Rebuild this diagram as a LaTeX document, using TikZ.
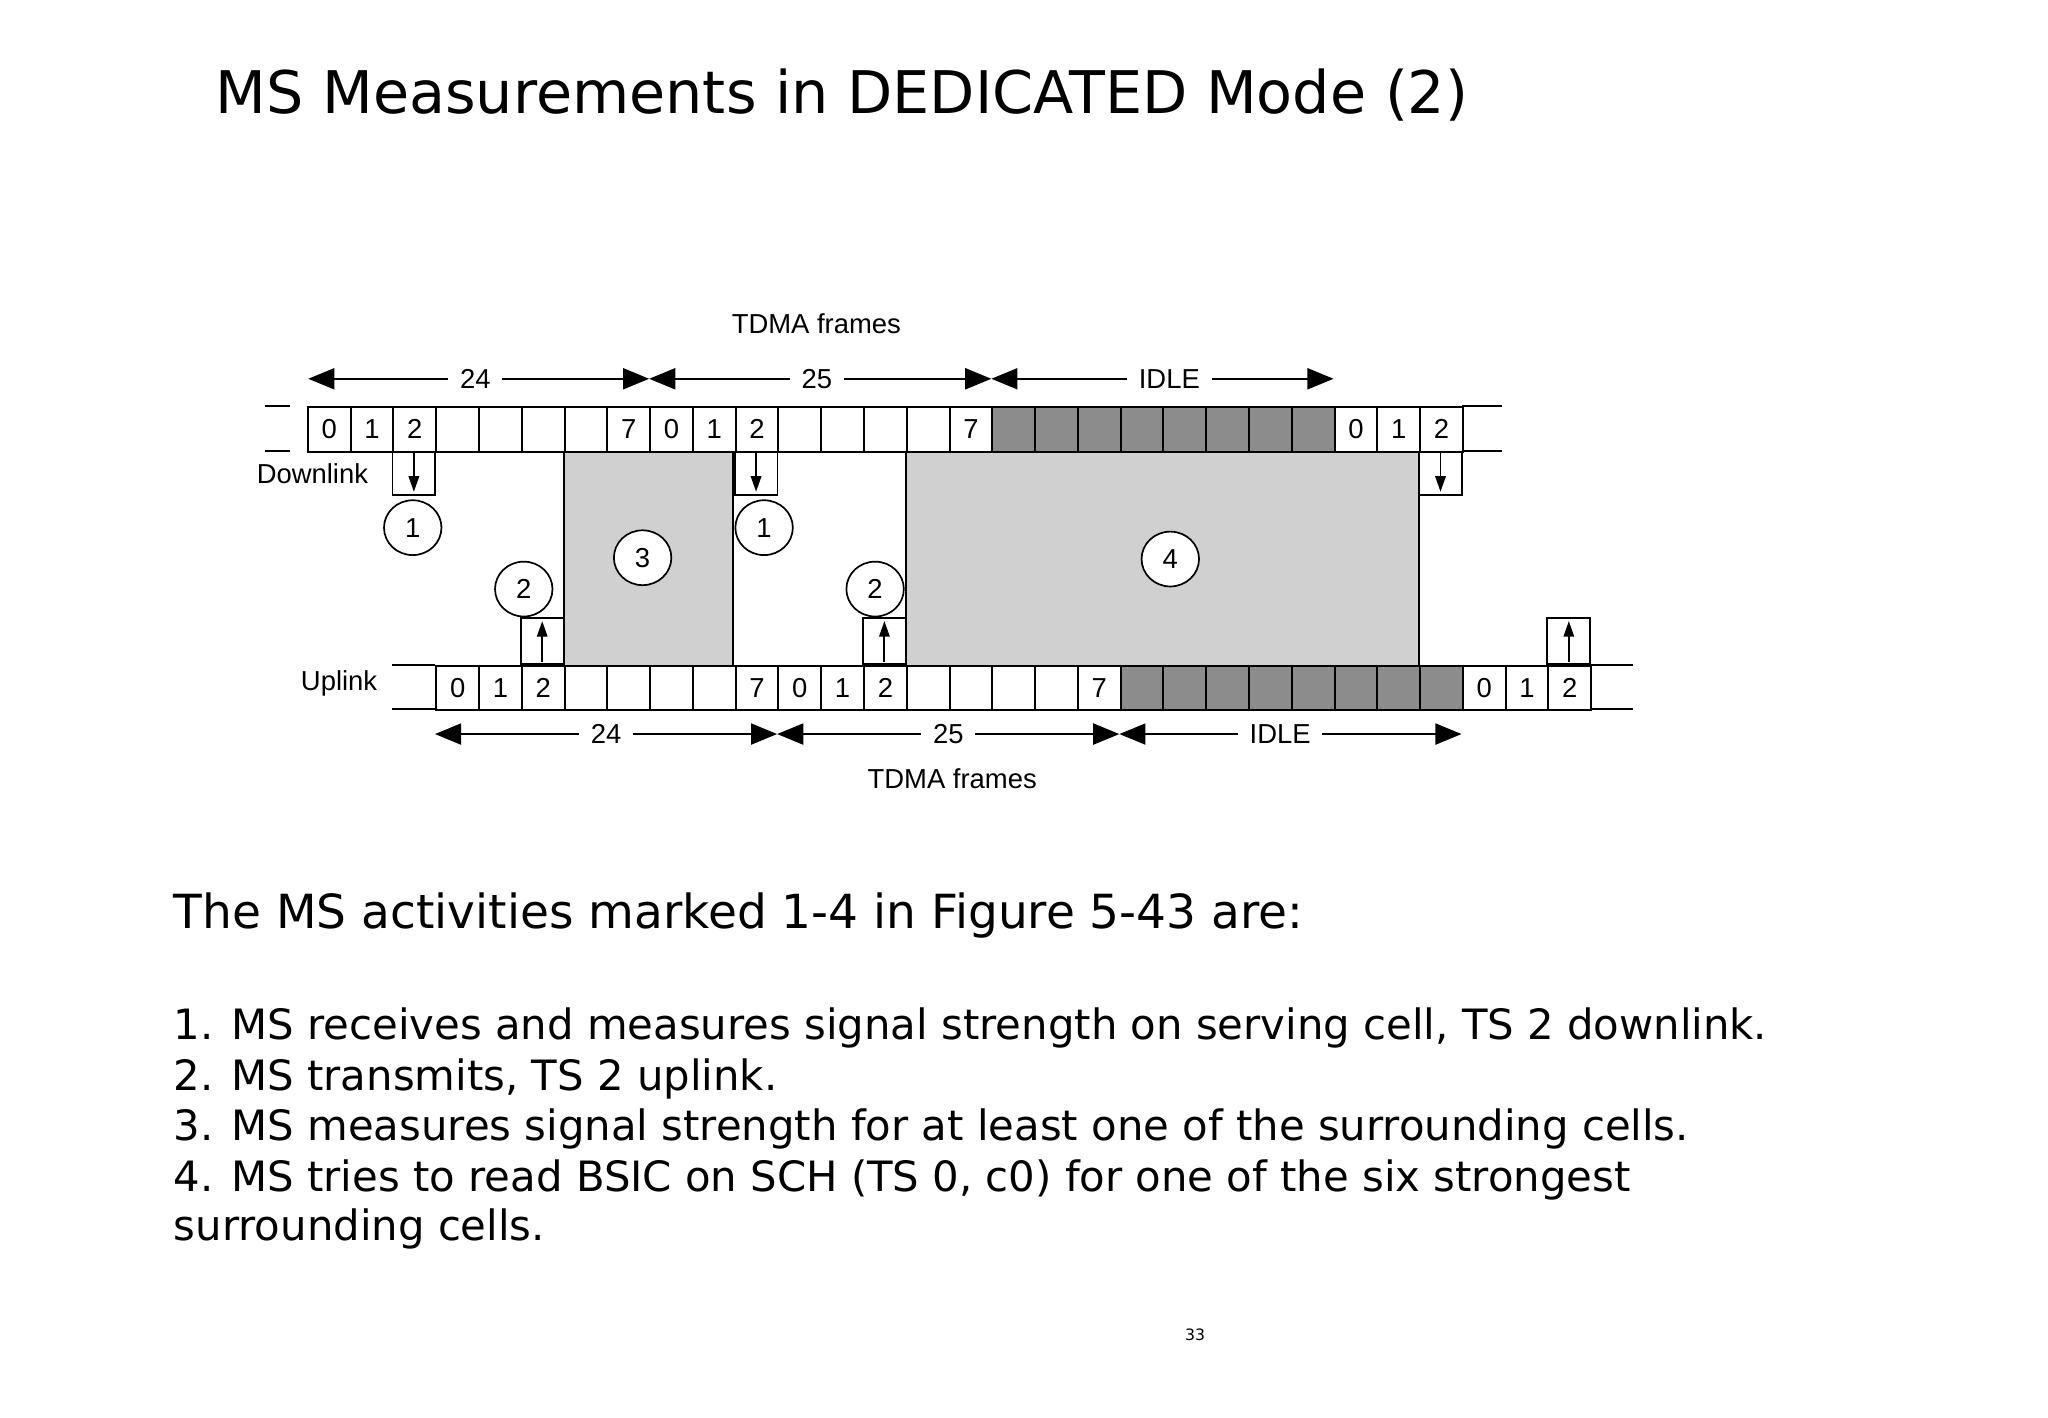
\documentclass[tikz,border=0pt]{standalone}
\usepackage{fontspec}
\setmainfont{DejaVu Sans}
\newfontfamily\diafont{Liberation Sans}
\usetikzlibrary{arrows.meta,shapes.geometric}
\definecolor{lightg}{HTML}{D0D0D0}
\definecolor{darkg}{HTML}{8C8C8C}
\tikzset{
 cellbox/.style={draw,line width=1.5pt,minimum width=32.75pt,minimum height=34pt,inner sep=0pt,anchor=north west,font=\diafont\fontsize{21}{21}\selectfont},
 darkcell/.style={cellbox,fill=darkg},
 abox/.style={draw,line width=1.5pt,minimum width=32.75pt,minimum height=33pt,inner sep=0pt,fill=white},
 circ/.style={draw,line width=1.3pt,ellipse,minimum width=44pt,minimum height=42pt,inner sep=0pt,fill=white,font=\diafont\fontsize{21}{21}\selectfont},
 dimarrow/.style={line width=1.8pt,{Triangle[length=20pt,width=16pt]}-{Triangle[length=20pt,width=16pt]}},
 dimlbl/.style={fill=white,inner sep=9pt,font=\diafont\fontsize{21}{21}\selectfont},
 lbl/.style={font=\diafont\fontsize{21}{21}\selectfont,inner sep=0pt},
 bodytxt/.style={anchor=base west,inner sep=0pt,font=\fontsize{32}{32}\selectfont},
}
\begin{document}
\begin{tikzpicture}[x=1pt,y=-1pt]
\useasboundingbox (0,0) rectangle (1568,1085);
\node[anchor=base west,inner sep=0pt,font=\fontsize{45}{45}\selectfont] (title) at (165,87) {MS Measurements in DEDICATED Mode (2)};
% gray boxes
\fill[lightg] (431.8,345) rectangle (561.4,509);
\draw[line width=1.5pt] (431.8,345) -- (431.8,509) (561.4,345) -- (561.4,509);
\fill[lightg] (693.5,345) rectangle (1086.5,509);
\draw[line width=1.5pt] (693.5,345) -- (693.5,509) (1086.5,345) -- (1086.5,509);
% downlink
\draw[line width=1.5pt] (203,311) -- (222,311) (203,345) -- (222,345);
\draw[line width=1.5pt] (1119,311) -- (1150,311) (1119,345) -- (1150,345);
\foreach \k/\t in {0/0,1/1,2/2,3/,4/,5/,6/,7/7,8/0,9/1,10/2,11/,12/,13/,14/,15/7,24/0,25/1,26/2}
  \node[cellbox] (d\k) at ({235+32.75*\k},311) {\t};
\foreach \k in {16,...,23}
  \node[darkcell] (d\k) at ({235+32.75*\k},311) {};
% uplink
\draw[line width=1.5pt] (300,509) -- (333,509) (300,543) -- (333,543);
\draw[line width=1.5pt] (1217,509) -- (1250,509) (1217,543) -- (1250,543);
\foreach \k/\t in {3/0,4/1,5/2,6/,7/,8/,9/,10/7,11/0,12/1,13/2,14/,15/,16/,17/,18/7,27/0,28/1,29/2}
  \node[cellbox] (u\k) at ({235+32.75*\k},509) {\t};
\foreach \k in {19,...,26}
  \node[darkcell] (u\k) at ({235+32.75*\k},509) {};
% arrow boxes
\foreach \k/\n in {2/a,10/b,26/c}{
  \node[abox,anchor=north] (dn\n) at ({235+32.75*\k+16.375},345) {};
  \draw[line width=1.5pt,-{Triangle[length=12pt,width=8pt]}] ([yshift=-2pt]dn\n.north) -- ([yshift=3pt]dn\n.south);
}
\foreach \k/\n in {5/a,13/b,29/c}{
  \node[abox,anchor=south,minimum height=35pt] (up\n) at ({235+32.75*\k+16.375},509) {};
  \draw[line width=1.5pt,-{Triangle[length=12pt,width=8pt]}] ([yshift=2pt]up\n.south) -- ([yshift=-3pt]up\n.north);
}
% circles
\node[circ] (c1a) at (316,404) {1};
\node[circ] (c2a) at (401,451) {2};
\node[circ] (c3) at (492,427) {3};
\node[circ] (c1b) at (585,404) {1};
\node[circ] (c2b) at (670,451) {2};
\node[circ] (c4) at (896,428) {4};
% labels
\node[lbl,anchor=east] (dl) at (282,363) {Downlink};
\node[lbl,anchor=east] (ul) at (289,523) {Uplink};
\node[lbl] (tf1) at (625,248) {TDMA frames};
\node[lbl] (tf2) at (729,596) {TDMA frames};
% dimension arrows
\coordinate (t0) at (236,290); \coordinate (t1) at (497,290);
\coordinate (t2) at (759,290); \coordinate (t3) at (1021,290);
\draw[dimarrow] (t0) -- node[dimlbl,pos=0.49]{24} (t1);
\draw[dimarrow] (t1) -- node[dimlbl,pos=0.49]{25} (t2);
\draw[dimarrow] (t2) -- node[dimlbl,pos=0.52]{IDLE} (t3);
\coordinate (b0) at (333,562); \coordinate (b1) at (595,562);
\coordinate (b2) at (857,562); \coordinate (b3) at (1119,562);
\draw[dimarrow] (b0) -- node[dimlbl,pos=0.5]{24} (b1);
\draw[dimarrow] (b1) -- node[dimlbl,pos=0.5]{25} (b2);
\draw[dimarrow] (b2) -- node[dimlbl,pos=0.47]{IDLE} (b3);
% text
\node[bodytxt,font=\fontsize{36}{36}\selectfont] (h) at (133,711) {The MS activities marked 1-4 in Figure 5-43 are:};
\node[bodytxt] (l1) at (133,796) {1. MS receives and measures signal strength on serving cell, TS 2 downlink.};
\node[bodytxt] (l2) at (133,835) {2. MS transmits, TS 2 uplink.};
\node[bodytxt] (l3) at (133,873) {3. MS measures signal strength for at least one of the surrounding cells.};
\node[bodytxt] (l4) at (133,912) {4. MS tries to read BSIC on SCH (TS 0, c0) for one of the six strongest};
\node[bodytxt] (l5) at (133,950) {surrounding cells.};
\node[inner sep=0pt,font=\fontsize{12}{12}\selectfont] (pg) at (915,1022) {33};
\end{tikzpicture}
\end{document}
